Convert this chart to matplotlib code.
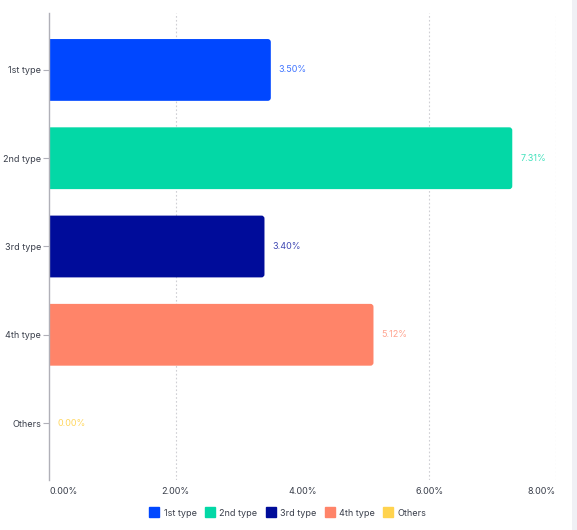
import matplotlib
matplotlib.use('Agg')
import matplotlib.pyplot as plt
from matplotlib.patches import FancyBboxPatch, Rectangle
from matplotlib.lines import Line2D

categories = ['1st type', '2nd type', '3rd type', '4th type', 'Others']
values = [3.50, 7.31, 3.40, 5.12, 0.00]
colors = ['#0047FF', '#03D8A6', '#000C9A', '#FF8469', '#FFD34E']
x_ticks = [0, 2, 4, 6, 8]
x_labels = ['0.00%', '2.00%', '4.00%', '6.00%', '8.00%']

plt.rcParams['font.family'] = ['Inter', 'DejaVu Sans']
text_color = '#3a3f4b'

fig = plt.figure(figsize=(5.77, 5.30), dpi=100)
ax = fig.add_axes([49 / 577, 1 - 480 / 530, (556 - 49) / 577, (480 - 13) / 530])

y = list(range(len(categories)))
bars = ax.barh(y, values, height=0.7, color=colors)

# swap the plain bars for ones with rounded right corners
px_x = ax.get_position().width * 577 / 8.0
px_y = ax.get_position().height * 530 / 5.29
r = 3.0 / px_x
for b, c in zip(bars, colors):
    b.set_visible(False)
    if b.get_width() <= 0:
        continue
    p = FancyBboxPatch((b.get_x() - r * 2, b.get_y()), b.get_width() + r * 2, b.get_height(),
                       boxstyle='round,pad=0,rounding_size=%f' % r,
                       mutation_aspect=px_x / px_y, facecolor=c, edgecolor='none',
                       zorder=2)
    ax.add_patch(p)
    p.set_clip_path(ax.patch)

for yi, v, c in zip(y, values, colors):
    ax.text(v + 8 / px_x, yi, '%.2f%%' % v, va='center', ha='left',
            fontsize=6.5, color=c, alpha=0.75 if v > 0 else 0.9)

ax.set_xlim(0, 8)
ax.set_ylim(4.645, -0.645)
ax.set_yticks(y)
ax.set_yticklabels(categories, fontsize=6.5, color=text_color)
ax.set_xticks(x_ticks)
ax.set_xticklabels(x_labels, fontsize=6.5, color=text_color)
xl = ax.get_xticklabels()
xl[0].set_ha('left')
xl[-1].set_ha('right')
ax.tick_params(axis='x', length=0, pad=5)
ax.tick_params(axis='y', length=4, width=0.8, color='#b0b0b8', pad=1.5)

for t in x_ticks:
    if t in (0, 4):
        continue
    ax.axvline(t, color='#cfcfd4', linestyle=(0, (1.5, 2)), linewidth=0.8, zorder=0)

for s in ['top', 'right', 'bottom']:
    ax.spines[s].set_visible(False)
ax.spines['left'].set_color('#b0b0b8')
ax.spines['left'].set_linewidth(1.0)
ax.spines['left'].set_zorder(3)

handles = [Line2D([], [], marker='s', linestyle='none', markersize=7,
                  markerfacecolor=c, markeredgecolor=c) for c in colors]
fig.legend(handles, categories, loc='center', bbox_to_anchor=(288 / 577, 1 - 513 / 530),
           ncol=5, frameon=False, fontsize=6.5, handletextpad=0.5, columnspacing=1.0,
           labelcolor=text_color, handlelength=1.0)

fig.patches.append(Rectangle((572 / 577, 0), 5 / 577, 1, transform=fig.transFigure,
                             facecolor='#f0f0f5', edgecolor='none'))

fig.savefig('out.png', dpi=100)
